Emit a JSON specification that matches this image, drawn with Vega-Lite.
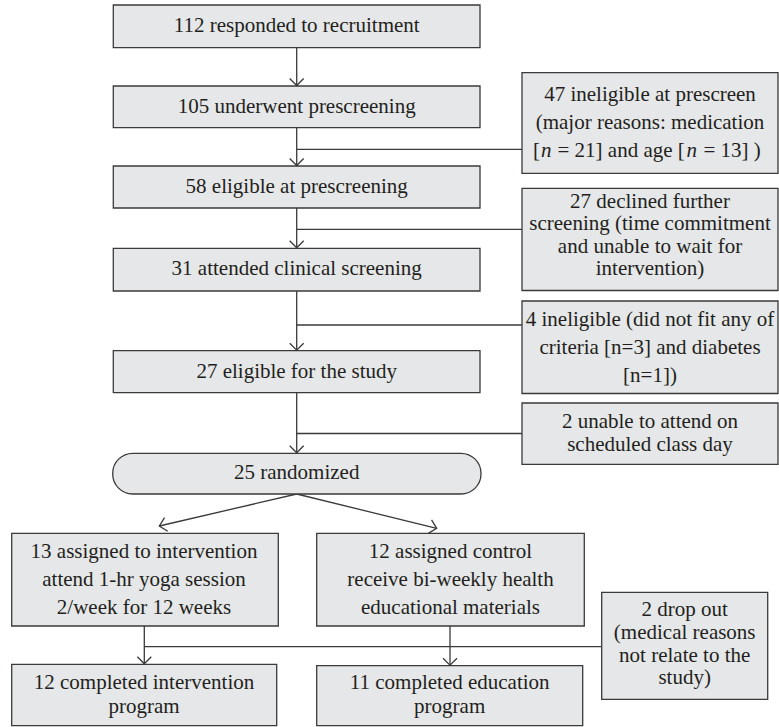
{
  "$schema": "https://vega.github.io/schema/vega-lite/v6.json",
  "width": 779,
  "height": 727,
  "padding": 0,
  "autosize": {"type": "none"},
  "background": "white",
  "config": {"view": {"stroke": null}},
  "datasets": {
    "boxes": [
      {"x": 113.3, "x2": 480, "y": 5, "y2": 47.7},
      {"x": 113.3, "x2": 480, "y": 86, "y2": 127.7},
      {"x": 113.3, "x2": 480, "y": 166, "y2": 208},
      {"x": 113.3, "x2": 480, "y": 248.3, "y2": 291},
      {"x": 113.3, "x2": 480, "y": 350.7, "y2": 392.7},
      {"x": 522, "x2": 778, "y": 72.7, "y2": 173.3},
      {"x": 522, "x2": 778, "y": 188.3, "y2": 290.5},
      {"x": 522, "x2": 778, "y": 301, "y2": 393.5},
      {"x": 522, "x2": 778, "y": 403, "y2": 464.3},
      {"x": 11.7, "x2": 278.3, "y": 533.3, "y2": 626},
      {"x": 316.7, "x2": 584.3, "y": 533.3, "y2": 626},
      {"x": 11.7, "x2": 276.7, "y": 664.3, "y2": 725.7},
      {"x": 316.7, "x2": 582.7, "y": 665.7, "y2": 725.7},
      {"x": 601.7, "x2": 767.7, "y": 592.3, "y2": 699.3}
    ],
    "rounded": [
      {"x": 112.7, "x2": 481, "y": 453.3, "y2": 494}
    ],
    "lines": [
      {"x": 296.7, "x2": 296.7, "y": 47.7, "y2": 86},
      {"x": 296.7, "x2": 296.7, "y": 127.7, "y2": 166},
      {"x": 296.7, "x2": 296.7, "y": 208, "y2": 248.3},
      {"x": 296.7, "x2": 296.7, "y": 291, "y2": 350.7},
      {"x": 296.7, "x2": 296.7, "y": 392.7, "y2": 453.3},
      {"x": 296.7, "x2": 522, "y": 149.3, "y2": 149.3},
      {"x": 296.7, "x2": 522, "y": 229.3, "y2": 229.3},
      {"x": 296.7, "x2": 522, "y": 325, "y2": 325},
      {"x": 296.7, "x2": 522, "y": 433.5, "y2": 433.5},
      {"x": 296.7, "x2": 159.3, "y": 494, "y2": 526},
      {"x": 296.7, "x2": 436.7, "y": 494, "y2": 528.3},
      {"x": 144.3, "x2": 144.3, "y": 626, "y2": 664.3},
      {"x": 450, "x2": 450, "y": 626, "y2": 665.7},
      {"x": 144.3, "x2": 601.7, "y": 646.7, "y2": 646.7}
    ],
    "arrows": [
      {"x": 296.7, "y": 85.5, "angle": 0},
      {"x": 296.7, "y": 165.5, "angle": 0},
      {"x": 296.7, "y": 247.8, "angle": 0},
      {"x": 296.7, "y": 350.2, "angle": 0},
      {"x": 296.7, "y": 452.8, "angle": 0},
      {"x": 159.3, "y": 526, "angle": 76.9},
      {"x": 436.7, "y": 528.3, "angle": 283.8},
      {"x": 144.3, "y": 663.8, "angle": 0},
      {"x": 450, "y": 665.2, "angle": 0}
    ],
    "texts": [
      {"x": 296.7, "y": 25.5, "t": "112 responded to recruitment"},
      {"x": 296.7, "y": 106.7, "t": "105 underwent prescreening"},
      {"x": 296.7, "y": 186.7, "t": "58 eligible at prescreening"},
      {"x": 296.7, "y": 269.3, "t": "31 attended clinical screening"},
      {"x": 296.7, "y": 371.7, "t": "27 eligible for the study"},
      {"x": 296.7, "y": 473.3, "t": "25 randomized"},
      {"x": 650, "y": 95, "t": "47 ineligible at prescreen"},
      {"x": 650, "y": 123, "t": "(major reasons: medication"},
      {"x": 650, "y": 202, "t": "27 declined further"},
      {"x": 650, "y": 224, "t": "screening (time commitment"},
      {"x": 650, "y": 247, "t": "and unable to wait for"},
      {"x": 650, "y": 269, "t": "intervention)"},
      {"x": 650, "y": 320, "t": "4 ineligible (did not fit any of"},
      {"x": 650, "y": 348, "t": "criteria [n=3] and diabetes"},
      {"x": 650, "y": 376, "t": "[n=1])"},
      {"x": 650, "y": 421.5, "t": "2 unable to attend on"},
      {"x": 650, "y": 444.5, "t": "scheduled class day"},
      {"x": 144, "y": 551.7, "t": "13 assigned to intervention"},
      {"x": 144, "y": 580, "t": "attend 1-hr yoga session"},
      {"x": 144, "y": 608, "t": "2/week for 12 weeks"},
      {"x": 450.5, "y": 551.7, "t": "12 assigned control"},
      {"x": 450.5, "y": 580, "t": "receive bi-weekly health"},
      {"x": 450.5, "y": 608, "t": "educational materials"},
      {"x": 144, "y": 683.3, "t": "12 completed intervention"},
      {"x": 144, "y": 706.7, "t": "program"},
      {"x": 449.7, "y": 683.3, "t": "11 completed education"},
      {"x": 449.7, "y": 706.7, "t": "program"},
      {"x": 684.7, "y": 609.5, "t": "2 drop out"},
      {"x": 684.7, "y": 632.5, "t": "(medical reasons"},
      {"x": 684.7, "y": 655.5, "t": "not relate to the"},
      {"x": 684.7, "y": 678, "t": "study)"}
    ],
    "segsRoman": [
      {"x": 533, "y": 151, "t": "["},
      {"x": 557.5, "y": 151, "t": "= 21] and age ["},
      {"x": 703.5, "y": 151, "t": "= 13]  )"}
    ],
    "segsItalic": [
      {"x": 541, "y": 151, "t": "n"},
      {"x": 686.5, "y": 151, "t": "n"}
    ]
  },
  "layer": [
    {
      "data": {"name": "lines"},
      "mark": {"type": "rule", "color": "#3a3a3a", "strokeWidth": 1.3},
      "encoding": {
        "x": {"field": "x", "type": "quantitative", "scale": {"domain": [0, 779], "nice": false, "zero": false}, "axis": null},
        "x2": {"field": "x2"},
        "y": {"field": "y", "type": "quantitative", "scale": {"domain": [0, 727], "nice": false, "zero": false, "reverse": true}, "axis": null},
        "y2": {"field": "y2"}
      }
    },
    {
      "data": {"name": "boxes"},
      "mark": {"type": "rect", "fill": "#e6e7e8", "stroke": "#3a3a3a", "strokeWidth": 1.3},
      "encoding": {
        "x": {"field": "x", "type": "quantitative"},
        "x2": {"field": "x2"},
        "y": {"field": "y", "type": "quantitative"},
        "y2": {"field": "y2"}
      }
    },
    {
      "data": {"name": "rounded"},
      "mark": {"type": "rect", "fill": "#e6e7e8", "stroke": "#3a3a3a", "strokeWidth": 1.3, "cornerRadius": 20},
      "encoding": {
        "x": {"field": "x", "type": "quantitative"},
        "x2": {"field": "x2"},
        "y": {"field": "y", "type": "quantitative"},
        "y2": {"field": "y2"}
      }
    },
    {
      "data": {"name": "arrows"},
      "mark": {"type": "point", "shape": "M-1,-1L0,0L1,-1", "filled": false, "stroke": "#3a3a3a", "strokeWidth": 1.3, "size": 196, "opacity": 1},
      "encoding": {
        "x": {"field": "x", "type": "quantitative"},
        "y": {"field": "y", "type": "quantitative"},
        "angle": {"field": "angle", "type": "quantitative", "scale": null}
      }
    },
    {
      "data": {"name": "texts"},
      "mark": {"type": "text", "font": "Liberation Serif", "fontSize": 21, "color": "#231f20", "align": "center", "baseline": "middle"},
      "encoding": {
        "x": {"field": "x", "type": "quantitative"},
        "y": {"field": "y", "type": "quantitative"},
        "text": {"field": "t"}
      }
    },
    {
      "data": {"name": "segsRoman"},
      "mark": {"type": "text", "font": "Liberation Serif", "fontSize": 21, "color": "#231f20", "align": "left", "baseline": "middle"},
      "encoding": {
        "x": {"field": "x", "type": "quantitative"},
        "y": {"field": "y", "type": "quantitative"},
        "text": {"field": "t"}
      }
    },
    {
      "data": {"name": "segsItalic"},
      "mark": {"type": "text", "font": "Liberation Serif", "fontSize": 21, "fontStyle": "italic", "color": "#231f20", "align": "left", "baseline": "middle"},
      "encoding": {
        "x": {"field": "x", "type": "quantitative"},
        "y": {"field": "y", "type": "quantitative"},
        "text": {"field": "t"}
      }
    }
  ]
}
